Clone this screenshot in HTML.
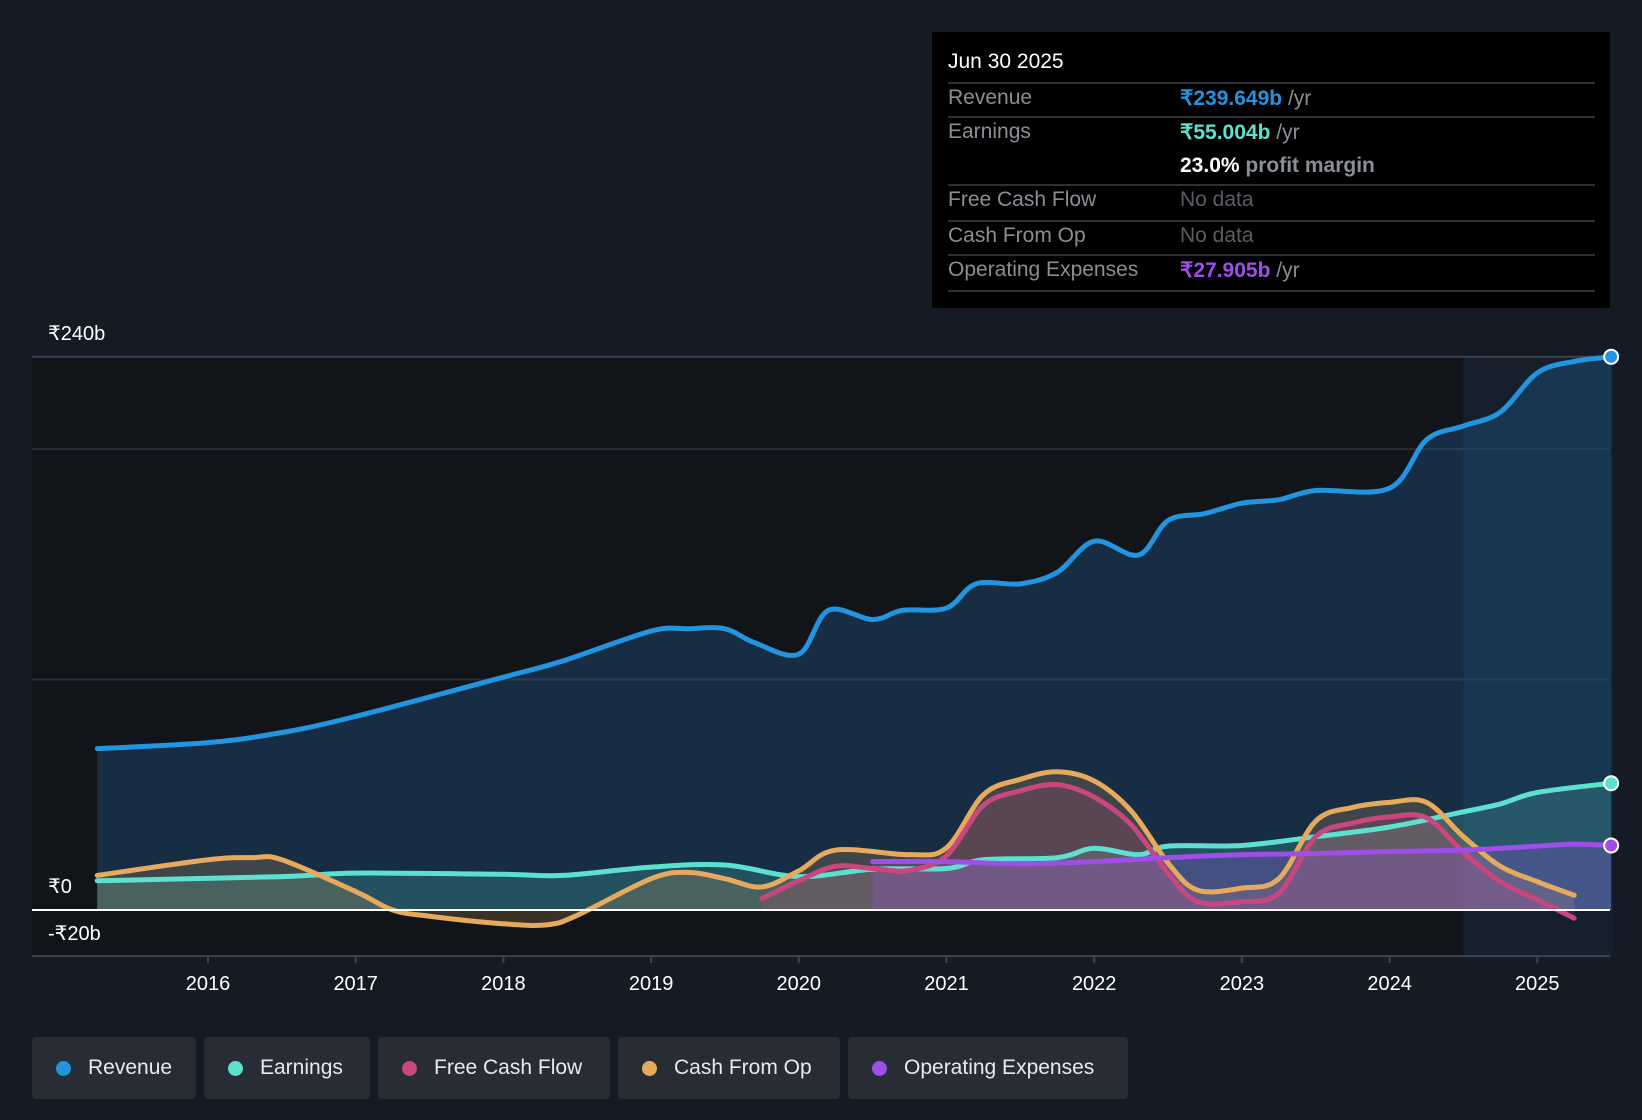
<!DOCTYPE html>
<html><head><meta charset="utf-8">
<style>
body{margin:0;background:#151b24;font-family:"Liberation Sans",sans-serif;}
#wrap{position:relative;width:1642px;height:1120px;overflow:hidden;background:#151b24;}
svg text{font-family:"Liberation Sans",sans-serif;}
.tt{position:absolute;left:932px;top:32px;width:678px;height:276px;background:#000;}
.tt .r{position:absolute;left:16px;font-size:21px;color:#8a8f96;}
.tt .v{position:absolute;left:248px;font-size:21px;color:#8a8f96;}
.tt .ln{position:absolute;left:16px;width:647px;height:2px;background:#2e3238;}
.leg{position:absolute;top:1037px;height:62px;background:#272c35;border-radius:4px;color:#e8eaed;font-size:21px;line-height:62px;}
.leg i{position:absolute;top:24px;left:24px;width:15px;height:15px;border-radius:50%;}
.leg span{position:absolute;left:56px;}
</style></head><body>
<div id="wrap">
<svg id="chart" width="1642" height="1120" style="position:absolute;left:0;top:0"></svg>
<div class="tt">
 <div class="r" style="top:18px;color:#fff">Jun 30 2025</div>
 <div class="ln" style="top:50px"></div>
 <div class="r" style="top:54px">Revenue</div>
 <div class="v" style="top:54px"><b style="color:#2394df">₹239.649b</b> /yr</div>
 <div class="ln" style="top:84px"></div>
 <div class="r" style="top:88px">Earnings</div>
 <div class="v" style="top:88px"><b style="color:#5ee0cf">₹55.004b</b> /yr</div>
 <div class="v" style="top:122px"><b style="color:#fff">23.0%</b> <b>profit margin</b></div>
 <div class="ln" style="top:152px"></div>
 <div class="r" style="top:156px">Free Cash Flow</div>
 <div class="v" style="top:156px;color:#5a5e64">No data</div>
 <div class="ln" style="top:188px"></div>
 <div class="r" style="top:192px">Cash From Op</div>
 <div class="v" style="top:192px;color:#5a5e64">No data</div>
 <div class="ln" style="top:222px"></div>
 <div class="r" style="top:226px">Operating Expenses</div>
 <div class="v" style="top:226px"><b style="color:#a04ee8">₹27.905b</b> /yr</div>
 <div class="ln" style="top:258px"></div>
</div>
<div class="leg" style="left:32px;width:164px"><i style="background:#2394df"></i><span>Revenue</span></div>
<div class="leg" style="left:204px;width:166px"><i style="background:#5ee0cf"></i><span>Earnings</span></div>
<div class="leg" style="left:378px;width:232px"><i style="background:#c9467e"></i><span>Free Cash Flow</span></div>
<div class="leg" style="left:618px;width:222px"><i style="background:#e6aa5e"></i><span>Cash From Op</span></div>
<div class="leg" style="left:848px;width:280px"><i style="background:#a04ee8"></i><span>Operating Expenses</span></div>
</div>
<script>
const revX=[2015.25,2016,2016.5,2017,2018,2018.4,2019,2019.25,2019.5,2019.7,2020,2020.2,2020.5,2020.7,2021,2021.2,2021.5,2021.75,2022,2022.3,2022.5,2022.75,2023,2023.25,2023.5,2024,2024.25,2024.5,2024.75,2025,2025.25,2025.5];
const revY=[70,72.6,77,84,101,108,121,122,122,116,111,130,126,130,131,141.5,141.5,146.5,160,154,169,172,176.5,178,182,183,204,210,216,233,238,240];
const earnX=[2015.25,2016.5,2017,2018,2018.4,2019,2019.5,2020,2020.5,2021,2021.25,2021.75,2022,2022.3,2022.5,2023,2023.5,2024,2024.5,2024.75,2025,2025.5];
const earnY=[12.7,14.5,16,15.5,15,18.6,19.5,14.5,17.7,18,21.8,22.7,26.8,24,27.7,28,31.8,36,42.6,46,51,55];
const cfoX=[2015.25,2016,2016.3,2016.5,2017,2017.25,2017.5,2018,2018.3,2018.5,2019,2019.25,2019.5,2019.75,2020,2020.25,2020.75,2021,2021.25,2021.5,2021.75,2022,2022.25,2022.5,2022.7,2023,2023.25,2023.5,2023.75,2024,2024.25,2024.5,2024.75,2025,2025.25];
const cfoY=[15,21.8,22.7,21.8,8,0,-2.7,-6,-6.4,-2.3,13.6,16.3,13.6,10,17,26,24,27,50,56.7,60,56,43,20.4,8.6,9.5,13.6,38.6,44.5,46.7,46.7,31.8,19,12.3,6.4];
const fcfX=[2019.75,2020,2020.25,2020.5,2020.75,2021,2021.25,2021.5,2021.75,2022,2022.25,2022.5,2022.7,2023,2023.25,2023.5,2023.75,2024,2024.25,2024.5,2024.75,2025,2025.25];
const fcfY=[5,12.7,19,18,17.2,23.6,45.4,51.7,54.4,49,37,16,3.6,3.6,7.3,31.8,37.7,40.4,40,25,12.3,4.5,-3.6];
const opxX=[2020.5,2021,2021.5,2022,2022.5,2023,2023.5,2024,2024.5,2025,2025.25,2025.5];
const opxY=[21,21,20,21,22.7,24,24.5,25.4,26,27.7,28.6,28];
const yearTicks=[2016,2017,2018,2019,2020,2021,2022,2023,2024,2025];
const gridVals=[240,200,100,-20];
const yLabels=[[240,'₹240b'],[0,'₹0'],[-20,'-₹20b']];

const X=t=>208+(t-2016)*147.7;
const Y=v=>910-v*2.305;
const svg=document.getElementById('chart');
const NS='http://www.w3.org/2000/svg';
function mk(tag,attrs,parent){const e=document.createElementNS(NS,tag);for(const k in attrs)e.setAttribute(k,attrs[k]);(parent||svg).appendChild(e);return e;}
function path(xs,ys){const p=xs.map((x,i)=>[X(x),Y(ys[i])]);let d='M'+p[0][0]+','+p[0][1];
 for(let i=0;i<p.length-1;i++){const p0=p[i-1]||p[i],p1=p[i],p2=p[i+1],p3=p[i+2]||p2;
  const c1=[p1[0]+(p2[0]-p0[0])/6,p1[1]+(p2[1]-p0[1])/6],c2=[p2[0]-(p3[0]-p1[0])/6,p2[1]-(p3[1]-p1[1])/6];
  d+=' C'+c1+' '+c2+' '+p2;}return d;}
let bg=mk('rect',{x:32,y:Y(240),width:X(2024.5)-32,height:Y(-20)-Y(240),fill:'#111419'});


let fc=mk('rect',{x:X(2024.5),y:Y(240),width:X(2025.5)-X(2024.5)+2,height:Y(-20)-Y(240),fill:'#15202c'});


gridVals.forEach(v=>{const l=mk('line',{x1:32,x2:1610,y1:Y(v),y2:Y(v),stroke:v==240||v==-20?'#3d434c':'#262c35','stroke-width':2});
 
 });
yLabels.forEach(([v,s])=>{const t=mk('text',{x:48,y:v==-20?Y(0)+30:Y(v)-17,fill:'#fff','font-size':20});t.textContent=s;
 
 });
yearTicks.forEach(yr=>{mk('line',{x1:X(yr),x2:X(yr),y1:Y(-20),y2:Y(-20)+7,stroke:'#3d434c','stroke-width':2});
 const t=mk('text',{x:X(yr),y:990,fill:'#fff','font-size':20,'text-anchor':'middle'});t.textContent=yr;
 
 });
const series=[
 ['revenue',revX,revY,'#2394df','rgba(35,110,180,0.28)'],
 ['earnings',earnX,earnY,'#5ee0cf','rgba(94,224,207,0.2)'],
 ['cash-from-op',cfoX,cfoY,'#e6aa5e','rgba(230,170,94,0.2)'],
 ['free-cash-flow',fcfX,fcfY,'#c9467e','rgba(201,70,126,0.2)'],
 ['operating-expenses',opxX,opxY,'#a04ee8','rgba(160,78,232,0.25)']];
series.forEach(([n,xs,ys,c,f])=>{const d=path(xs,ys);
 const a=mk('path',{d:d+' L'+X(xs[xs.length-1])+','+Y(0)+' L'+X(xs[0])+','+Y(0)+' Z',fill:f});
 
 });
series.forEach(([n,xs,ys,c,f])=>{const l=mk('path',{d:path(xs,ys),fill:'none',stroke:c,'stroke-width':5,'stroke-linecap':'round'});
 
 });
const z=mk('line',{x1:32,x2:1610,y1:Y(0),y2:Y(0),stroke:'#fff','stroke-width':2});


[[revX,revY,'#2394df','revenue'],[earnX,earnY,'#5ee0cf','earnings'],[opxX,opxY,'#a04ee8','operating-expenses']].forEach(([xs,ys,c,n])=>{
 const m=mk('circle',{cx:X(xs[xs.length-1]),cy:Y(ys[ys.length-1]),r:7,fill:c,stroke:'#fff','stroke-width':2});
 
 });
</script>
</body></html>
